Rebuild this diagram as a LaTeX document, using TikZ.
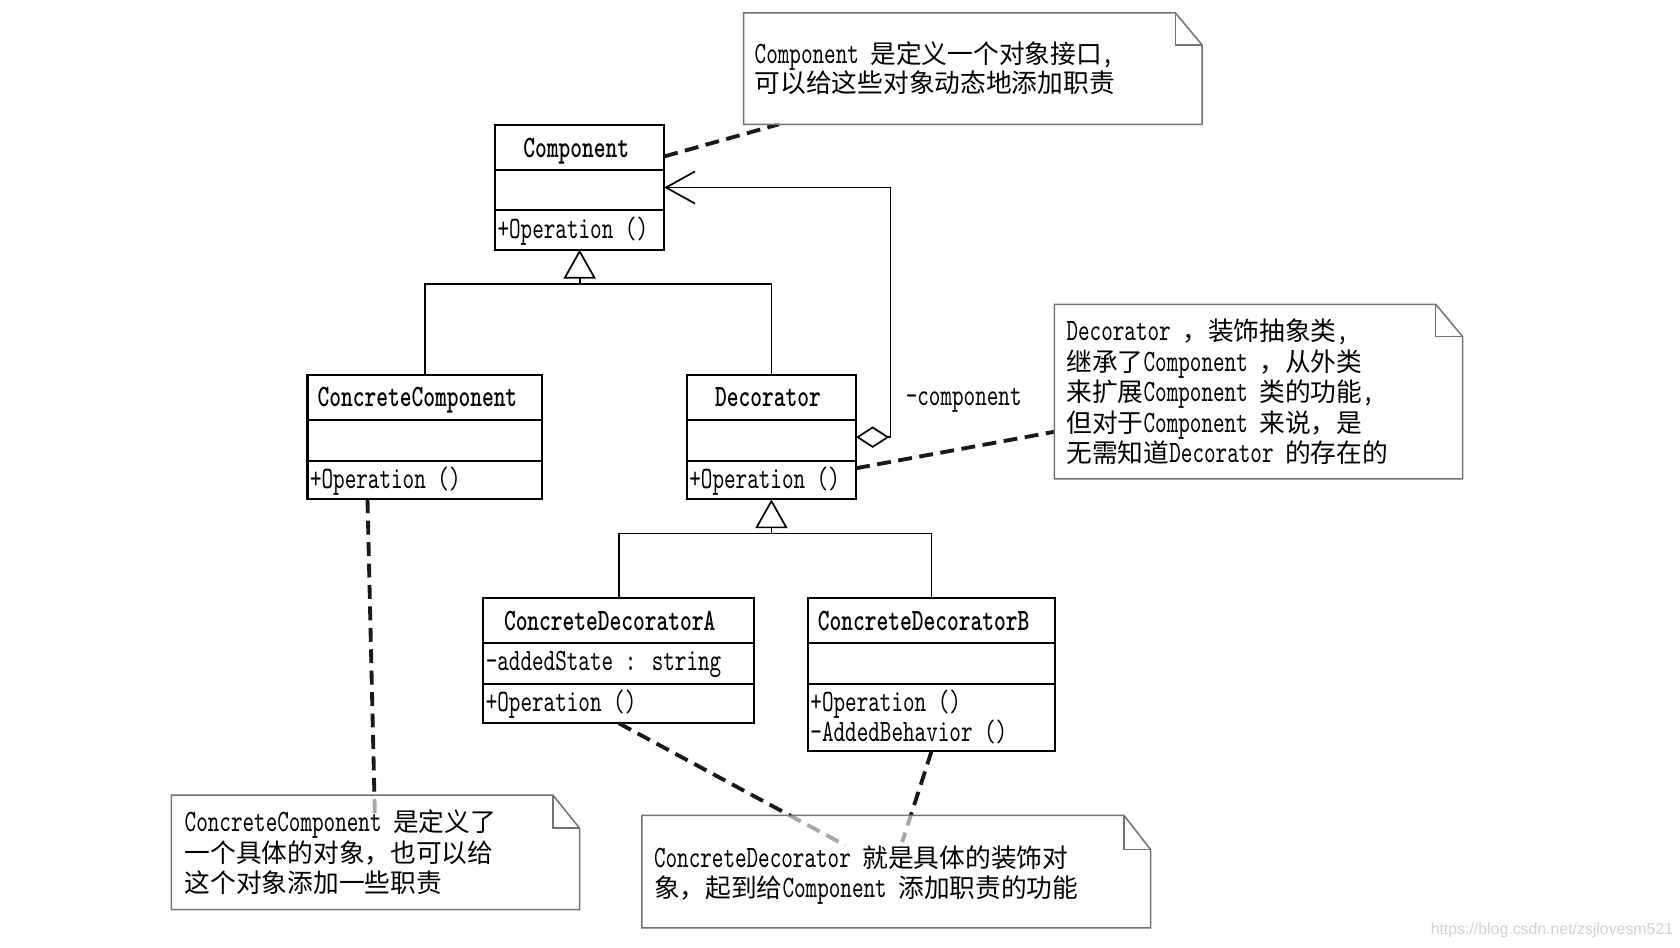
\documentclass[tikz,border=0pt]{standalone}
\usepackage{fontspec}
\usetikzlibrary{arrows.meta,calc}
\newfontfamily\latf{lmmono10-regular.otf}[FakeStretch=0.71]
\newfontfamily\latbf{lmmonolt10-bold.otf}[FakeStretch=0.72]
\newfontfamily\cjkf{Noto Sans CJK SC}
\newfontfamily\wmf{Liberation Sans}
\newcommand\zh[1]{{\cjkf\fontsize{12}{14}\selectfont #1}}
\tikzset{
  clsbox/.style={draw, line width=1pt, inner sep=0pt, outer sep=0pt, fill=white},
  divl/.style={line width=1pt},
  ttl/.style={anchor=base west, inner sep=0pt, font=\latbf\fontsize{14.5}{14}\selectfont},
  mem/.style={anchor=base west, inner sep=0pt, font=\latf\fontsize{14.5}{14}\selectfont},
  txt/.style={anchor=base west, inner sep=0pt, font=\latf\fontsize{14.5}{14}\selectfont},
  notebox/.style={inner sep=0pt, outer sep=0pt},
  noteshape/.style={draw=black!55, line width=0.7pt, fill=white, fill opacity=0.62},
  notelink/.style={line width=1.8pt, dash pattern=on 6.5pt off 3.5pt, black!90},
  rel/.style={line width=0.8pt},
  gen/.style={rel, -{Triangle[length=13.5pt,width=15pt,fill=white]}},
  agg/.style={rel, {Diamond[length=15.5pt,width=10pt,fill=white]}-{Straight Barb[length=13.5pt,width=15pt]}}
}
\begin{document}
\begin{tikzpicture}[x=0.5pt,y=-0.5pt]
\useasboundingbox[fill=white] (0,0) rectangle (1568,884);

% ---------- class boxes ----------
\node[clsbox, minimum width=79pt, minimum height=58pt] (cmp) at (541,175) {};
\draw[divl] (cmp.west |- 0,159) -- (cmp.east |- 0,159);
\draw[divl] (cmp.west |- 0,196) -- (cmp.east |- 0,196);
\node[ttl] (cmpT) at (488,147) {Component};
\node[mem] (cmpO) at (464,223) {+Operation ()};

\node[clsbox, minimum width=109.5pt, minimum height=58pt] (cc) at (396.5,408) {};
\draw[divl] (cc.west |- 0,392) -- (cc.east |- 0,392);
\draw[divl] (cc.west |- 0,430) -- (cc.east |- 0,430);
\node[ttl] (ccT) at (296,379) {ConcreteComponent};
\node[mem] (ccO) at (289,456) {+Operation ()};

\node[clsbox, minimum width=79pt, minimum height=58pt] (dec) at (720,408) {};
\draw[divl] (dec.west |- 0,392) -- (dec.east |- 0,392);
\draw[divl] (dec.west |- 0,430) -- (dec.east |- 0,430);
\node[ttl] (decT) at (667,379) {Decorator};
\node[mem] (decO) at (643,456) {+Operation ()};

\node[clsbox, minimum width=126.5pt, minimum height=58.5pt] (cda) at (577.5,616.5) {};
\draw[divl] (cda.west |- 0,600) -- (cda.east |- 0,600);
\draw[divl] (cda.west |- 0,638) -- (cda.east |- 0,638);
\node[ttl] (cdaT) at (470,588) {ConcreteDecoratorA};
\node[mem] (cdaS) at (453,626) {-addedState : string};
\node[mem] (cdaO) at (453,664) {+Operation ()};

\node[clsbox, minimum width=115.5pt, minimum height=71.5pt] (cdb) at (869.5,629.5) {};
\draw[divl] (cdb.west |- 0,600) -- (cdb.east |- 0,600);
\draw[divl] (cdb.west |- 0,638) -- (cdb.east |- 0,638);
\node[ttl] (cdbT) at (763,588) {ConcreteDecoratorB};
\node[mem] (cdbO) at (756,664) {+Operation ()};
\node[mem] (cdbA) at (756,692) {-AddedBehavior ()};

% ---------- note anchors ----------
\node[notebox, minimum width=214pt, minimum height=52pt] (n1) at (908,64) {};
\node[notebox, minimum width=190.5pt, minimum height=81.5pt] (n2) at (1174.5,365.5) {};
\node[notebox, minimum width=190.5pt, minimum height=53.5pt] (n3) at (350.5,795.5) {};
\node[notebox, minimum width=237.5pt, minimum height=52.5pt] (n4) at (836.5,813.5) {};

% ---------- generalizations ----------
\coordinate (j1) at (541,265);
\coordinate (j2) at (720,498);
\draw[rel] (cc.north) |- (j1);
\draw[gen] (dec.north) |- (j1) -- (cmp.south);
\draw[rel] (cda.north) |- (j2);
\draw[gen] (cdb.north) |- (j2) -- (dec.south);

% ---------- aggregation ----------
\coordinate (ag) at (831,408);
\draw[agg] (dec.east |- 0,408) -- (ag) |- (cmp.east |- 0,175);
\node[txt] (aglbl) at (845,378) {-component};

% ---------- note links ----------
\coordinate (e1) at (727,116);
\coordinate (e2) at (984,403);
\coordinate (e3) at (350,766);
\coordinate (e4) at (789,789);
\coordinate (e5) at (842,786);
\draw[notelink] (cmp.east |- 0,146) -- (e1);
\draw[notelink] (dec.east |- 0,437) -- (e2);
\draw[notelink] (cc.south -| 343,0) -- (e3);
\draw[notelink] (cda.south) -- (e4);
\draw[notelink] (cdb.south) -- (e5);

% ---------- note shapes ----------
\foreach \n/\fx/\fy in {n1/25/30, n2/25/30, n3/25/31, n4/25/32}{
  \draw[noteshape] (\n.north west) -- ($(\n.north east)+(-\fx,0)$) -- ($(\n.north east)+(0,\fy)$) -- (\n.south east) -- (\n.south west) -- cycle;
  \draw[draw=black!55, line width=0.7pt] ($(\n.north east)+(-\fx,0)$) -- ($(\n.north east)+(-\fx,\fy)$) -- ($(\n.north east)+(0,\fy)$);
}

% ---------- note texts ----------
\node[txt] (t1a) at (704,59) {Component \zh{是定义一个对象接口},};
\node[txt] (t1b) at (704,86) {\zh{可以给这些对象动态地添加职责}};

\node[txt] (t2a) at (995,318) {Decorator \zh{，装饰抽象类},};
\node[txt] (t2b) at (995,347) {\zh{继承了}Component \zh{，从外类}};
\node[txt] (t2c) at (995,375) {\zh{来扩展}Component \zh{类的功能},};
\node[txt] (t2d) at (995,404) {\zh{但对于}Component \zh{来说，是}};
\node[txt] (t2e) at (995,432) {\zh{无需知道}Decorator \zh{的存在的}};

\node[txt] (t3a) at (172,776) {ConcreteComponent \zh{是定义了}};
\node[txt] (t3b) at (172,805) {\zh{一个具体的对象，也可以给}};
\node[txt] (t3c) at (172,833) {\zh{这个对象添加一些职责}};

\node[txt] (t4a) at (610,810) {ConcreteDecorator \zh{就是具体的装饰对}};
\node[txt] (t4b) at (610,838) {\zh{象，起到给}Component \zh{添加职责的功能}};

% ---------- watermark ----------
\node[anchor=east, inner sep=0pt, font=\wmf\fontsize{7.4}{8}\selectfont, text=black!18] (wm) at (1562,868) {https://blog.csdn.net/zsjlovesm521};
\end{tikzpicture}
\end{document}
